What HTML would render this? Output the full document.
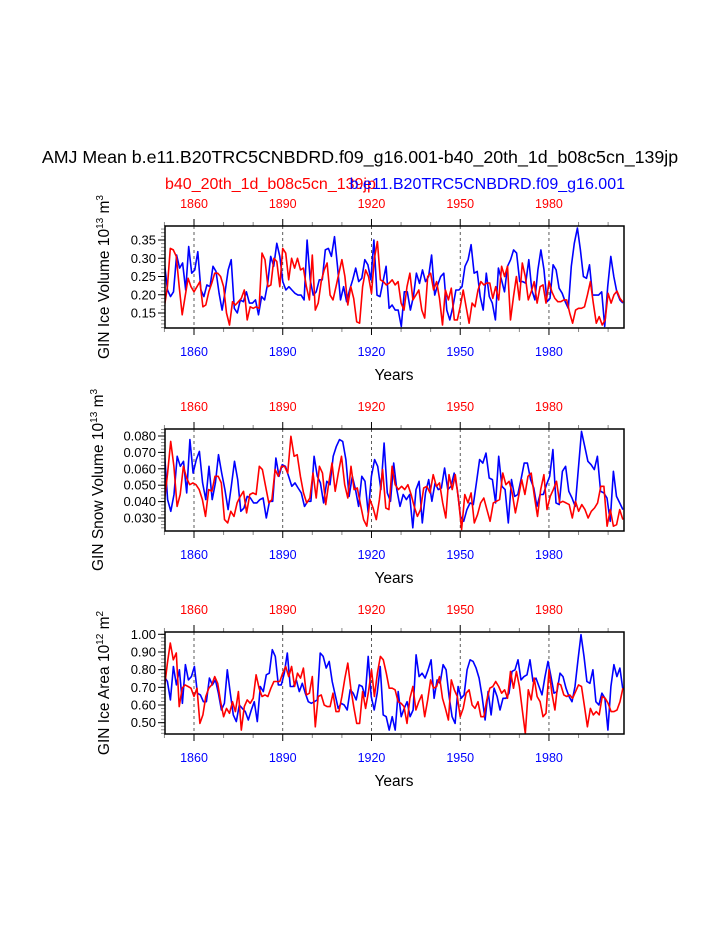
<!DOCTYPE html>
<html><head><meta charset="utf-8">
<style>
html,body{margin:0;padding:0;background:#fff;}
svg{display:block;font-family:"Liberation Sans",Helvetica,Arial,sans-serif;}
</style></head>
<body>
<svg id="chart" width="723" height="935" viewBox="0 0 723 935" xmlns="http://www.w3.org/2000/svg">
<rect x="0" y="0" width="723" height="935" fill="#fff"/>
<text x="360" y="163" font-size="17.8" text-anchor="middle" fill="#000">AMJ Mean b.e11.B20TRC5CNBDRD.f09_g16.001-b40_20th_1d_b08c5cn_139jp</text>
<text x="165" y="189" font-size="16" fill="#ff0000">b40_20th_1d_b08c5cn_139jp</text>
<text x="625" y="189" font-size="16" text-anchor="end" fill="#0000ff">b.e11.B20TRC5CNBDRD.f09_g16.001</text>
<g id="panels"></g>
</svg>
<script>
// ---- Data ----
const yearStart = 1850;
const yearEnd = 2005;
const xTickYears = [1860, 1890, 1920, 1950, 1980];
const xTickLabels = ["1860", "1890", "1920", "1950", "1980"];

const iceVolBlue = [0.287,0.213,0.195,0.208,0.309,0.273,0.287,0.213,0.332,0.259,0.268,0.318,0.213,0.195,0.227,0.222,0.278,0.264,0.204,0.158,0.208,0.268,0.296,0.163,0.15,0.186,0.181,0.208,0.177,0.177,0.186,0.145,0.195,0.186,0.231,0.305,0.278,0.341,0.305,0.236,0.213,0.222,0.213,0.204,0.199,0.199,0.186,0.35,0.241,0.199,0.208,0.241,0.241,0.323,0.327,0.305,0.359,0.278,0.186,0.222,0.181,0.213,0.241,0.273,0.236,0.245,0.296,0.282,0.241,0.35,0.199,0.195,0.236,0.278,0.163,0.172,0.158,
0.158,0.113,0.208,0.208,0.158,0.195,0.259,0.231,0.268,0.236,0.25,0.309,0.199,0.227,0.25,0.259,0.158,0.131,0.167,0.213,0.213,0.222,0.278,0.296,0.337,0.259,0.264,0.195,0.158,0.259,0.195,0.177,0.131,0.273,0.241,0.208,0.278,0.296,0.323,0.314,0.236,0.236,0.232,0.296,0.213,0.186,0.268,0.323,0.268,0.181,0.19,0.282,0.268,0.218,0.204,0.181,0.163,0.278,0.341,0.383,0.323,0.25,0.245,0.282,0.199,0.199,0.199,0.208,0.113,0.222,0.305,0.25,0.208,0.186,0.177];
const iceVolRed = [0.167,0.222,0.327,0.323,0.305,0.222,0.145,0.195,0.245,0.222,0.208,0.222,0.236,0.167,0.172,0.208,0.231,0.259,0.259,0.25,0.222,0.15,0.117,0.181,0.172,0.181,0.19,0.213,0.131,0.167,0.163,0.167,0.163,0.314,0.296,0.222,0.227,0.30,0.291,0.222,0.327,0.314,0.241,0.30,0.273,0.30,0.268,0.273,0.222,0.186,0.309,0.158,0.177,0.236,0.268,0.287,0.199,0.186,0.222,0.259,0.296,0.25,0.172,0.222,0.19,0.126,0.122,0.222,0.268,0.25,0.204,0.30,0.346,0.241,0.236,0.227,0.232,
0.241,0.227,0.236,0.177,0.158,0.222,0.259,0.186,0.199,0.213,0.158,0.136,0.25,0.259,0.213,0.236,0.19,0.117,0.213,0.186,0.218,0.131,0.131,0.167,0.213,0.167,0.122,0.177,0.167,0.213,0.236,0.227,0.232,0.232,0.19,0.222,0.186,0.278,0.25,0.278,0.131,0.195,0.25,0.186,0.287,0.25,0.186,0.208,0.236,0.177,0.222,0.227,0.177,0.236,0.208,0.19,0.181,0.181,0.186,0.186,0.15,0.122,0.158,0.163,0.163,0.167,0.199,0.236,0.177,0.122,0.14,0.117,0.131,0.204,0.177,0.20,0.21,0.19,0.18];

const snowVolBlue = [0.0706,0.0412,0.0341,0.0443,0.0676,0.0615,0.0646,0.0453,0.0778,0.0574,0.0656,0.0706,0.0514,0.0412,0.0615,0.0412,0.0514,0.0686,0.0574,0.0473,0.0351,0.0493,0.0646,0.0534,0.0341,0.0361,0.0432,0.0422,0.0392,0.0392,0.0412,0.0422,0.030,0.0402,0.0402,0.0666,0.0554,0.0625,0.0615,0.0554,0.0493,0.0514,0.0483,0.0453,0.0371,0.0402,0.0402,0.0676,0.0554,0.0514,0.0392,0.0524,0.0503,0.0676,0.0737,0.0778,0.0767,0.0656,0.0432,0.0554,0.0473,0.0371,0.0554,0.0524,0.0331,0.0554,0.0656,0.0615,0.0473,0.0757,0.0453,0.0402,0.0635,0.0473,0.0371,0.0443,0.0412,
0.0443,0.024,0.0473,0.0524,0.027,0.0453,0.0534,0.0402,0.0514,0.0473,0.0483,0.0605,0.0473,0.0493,0.0574,0.0473,0.031,0.028,0.0351,0.0392,0.0382,0.0514,0.0656,0.0635,0.0696,0.0544,0.0534,0.0392,0.0676,0.0493,0.0473,0.027,0.0534,0.0432,0.0443,0.0534,0.0635,0.0635,0.0534,0.0483,0.0371,0.0443,0.0443,0.0503,0.0554,0.0717,0.0392,0.0382,0.0585,0.0615,0.0463,0.0422,0.0371,0.0595,0.0828,0.0737,0.0646,0.0625,0.0595,0.0676,0.0463,0.0453,0.0422,0.028,0.0585,0.0432,0.0392,0.0351];
const snowVolRed = [0.0402,0.0574,0.0767,0.0615,0.0371,0.0443,0.0615,0.0544,0.0503,0.0514,0.0503,0.0473,0.0412,0.031,0.0473,0.0463,0.0554,0.0554,0.0514,0.029,0.027,0.0341,0.031,0.0392,0.0432,0.0463,0.0331,0.0443,0.0453,0.0443,0.0615,0.0595,0.0493,0.0392,0.0412,0.0595,0.0554,0.0615,0.0615,0.0574,0.0798,0.0676,0.0686,0.0554,0.0453,0.0392,0.0422,0.0574,0.0422,0.0615,0.0574,0.0382,0.0514,0.0635,0.0463,0.0574,0.0676,0.0503,0.0422,0.0615,0.0473,0.0483,0.0382,0.029,0.025,0.0412,0.0361,0.029,0.0412,0.0595,0.0361,0.0351,0.0615,0.0503,0.0473,0.0493,0.0473,
0.0503,0.0443,0.0371,0.031,0.0351,0.0483,0.0493,0.0453,0.0564,0.0493,0.0514,0.0392,0.030,0.0564,0.0473,0.0564,0.0412,0.0229,0.0443,0.0392,0.0453,0.027,0.032,0.0392,0.0422,0.0351,0.028,0.0392,0.0402,0.0412,0.0574,0.0503,0.0524,0.0453,0.0331,0.0432,0.0534,0.0443,0.0554,0.0574,0.0432,0.031,0.0473,0.0564,0.0351,0.0432,0.0473,0.0524,0.0392,0.0402,0.0392,0.0382,0.030,0.0402,0.0341,0.0382,0.0351,0.030,0.0341,0.0361,0.0392,0.0493,0.0493,0.025,0.0351,0.025,0.026,0.0351,0.029];

const iceAreaBlue = [0.761,0.733,0.629,0.818,0.714,0.799,0.61,0.828,0.742,0.761,0.818,0.667,0.657,0.619,0.619,0.752,0.714,0.742,0.667,0.572,0.61,0.799,0.667,0.544,0.506,0.60,0.581,0.563,0.515,0.572,0.619,0.506,0.705,0.676,0.771,0.78,0.913,0.875,0.714,0.714,0.78,0.894,0.705,0.705,0.742,0.676,0.723,0.667,0.619,0.61,0.619,0.629,0.894,0.875,0.809,0.847,0.733,0.657,0.581,0.61,0.60,0.572,0.686,0.667,0.629,0.714,0.705,0.648,0.875,0.648,0.572,0.667,0.818,0.544,0.534,0.458,
0.534,0.458,0.676,0.534,0.581,0.619,0.534,0.572,0.884,0.761,0.78,0.752,0.799,0.856,0.638,0.742,0.723,0.828,0.799,0.648,0.534,0.496,0.705,0.638,0.657,0.799,0.856,0.847,0.809,0.752,0.648,0.515,0.676,0.544,0.695,0.648,0.572,0.638,0.638,0.667,0.79,0.799,0.856,0.742,0.761,0.771,0.856,0.733,0.752,0.705,0.657,0.761,0.847,0.761,0.667,0.676,0.78,0.761,0.695,0.648,0.619,0.705,0.856,0.998,0.875,0.733,0.723,0.799,0.619,0.60,0.667,0.638,0.458,0.705,0.828,0.761,0.809,0.686];
const iceAreaRed = [0.695,0.837,0.951,0.856,0.894,0.591,0.695,0.714,0.705,0.695,0.648,0.695,0.496,0.544,0.648,0.695,0.714,0.761,0.723,0.619,0.534,0.581,0.553,0.619,0.563,0.676,0.458,0.591,0.629,0.61,0.638,0.771,0.695,0.648,0.657,0.648,0.695,0.733,0.733,0.733,0.78,0.818,0.761,0.818,0.705,0.78,0.752,0.809,0.657,0.667,0.761,0.477,0.648,0.657,0.60,0.591,0.591,0.667,0.563,0.563,0.648,0.752,0.837,0.695,0.591,0.496,0.496,0.676,0.581,0.676,0.799,0.648,0.78,0.875,0.856,0.78,0.695,
0.695,0.686,0.619,0.61,0.591,0.496,0.638,0.705,0.572,0.619,0.657,0.534,0.629,0.742,0.695,0.705,0.761,0.638,0.581,0.515,0.742,0.686,0.648,0.534,0.581,0.667,0.686,0.60,0.581,0.619,0.534,0.534,0.629,0.695,0.705,0.733,0.705,0.667,0.686,0.638,0.79,0.695,0.79,0.705,0.572,0.439,0.686,0.629,0.752,0.648,0.619,0.534,0.553,0.799,0.667,0.572,0.723,0.714,0.657,0.648,0.657,0.638,0.676,0.714,0.705,0.591,0.477,0.581,0.544,0.563,0.544,0.648,0.638,0.61,0.563,0.563,0.572,0.619,0.695];

const yTicks1 = [0.15,0.20,0.25,0.30,0.35];
const yTickLabels1 = ["0.15","0.20","0.25","0.30","0.35"];
const yTicks2 = [0.030,0.040,0.050,0.060,0.070,0.080];
const yTickLabels2 = ["0.030","0.040","0.050","0.060","0.070","0.080"];
const yTicks3 = [0.50,0.60,0.70,0.80,0.90,1.00];
const yTickLabels3 = ["0.50","0.60","0.70","0.80","0.90","1.00"];

// ---- Drawing ----
const NS = "http://www.w3.org/2000/svg";
const root = document.getElementById("panels");
const BX0 = 165, BX1 = 624, BH = 102;
function xScale(yr){ return 194 + (yr - 1860) * 2.958; }
function mk(tag, attrs, parent){
  const e = document.createElementNS(NS, tag);
  for (const k in attrs) e.setAttribute(k, attrs[k]);
  (parent || root).appendChild(e);
  return e;
}
function drawPanel(p){
  const g = mk("g", {});
  
  
  const top = p.top, bot = p.top + BH;
  const yScale = v => p.yRef + (p.vRef - v) * p.pxPerUnit;
  xTickYears.forEach(yr => {
    const l = mk("line", {x1:xScale(yr), x2:xScale(yr), y1:top, y2:bot, stroke:"#333", "stroke-width":0.8, "stroke-dasharray":"3,3"}, g);
    
    
  });
  for (let yr = 1850; yr <= 2000; yr += 10){
    const x = xScale(yr);
    const major = xTickYears.indexOf(yr) >= 0;
    const len = major ? 7 : 4;
    mk("line", {x1:x, x2:x, y1:top, y2:top - len, stroke:major?"#000":"#888", "stroke-width":1}, g);
    mk("line", {x1:x, x2:x, y1:bot, y2:bot + len, stroke:major?"#000":"#888", "stroke-width":1}, g);
  }
  xTickYears.forEach((yr, i) => {
    const t1 = mk("text", {x:xScale(yr), y:top - 18, "font-size":12.5, "text-anchor":"middle", fill:"#ff0000"}, g);
    t1.textContent = xTickLabels[i];
    
    
    const t2 = mk("text", {x:xScale(yr), y:bot + 28, "font-size":12.5, "text-anchor":"middle", fill:"#0000ff"}, g);
    t2.textContent = xTickLabels[i];
    
    
  });
  const vTop = p.vRef - (top - p.yRef) / p.pxPerUnit;
  const vBot = p.vRef - (bot - p.yRef) / p.pxPerUnit;
  const start = Math.ceil(vBot / p.minor - 1e-6);
  for (let k = start; k * p.minor <= vTop + 1e-9; k++){
    const y = yScale(k * p.minor);
    mk("line", {x1:BX0, x2:BX0 - 4, y1:y, y2:y, stroke:"#888", "stroke-width":1}, g);
  }
  p.yTicks.forEach((v, i) => {
    const y = yScale(v);
    mk("line", {x1:BX0, x2:BX0 - 7, y1:y, y2:y, stroke:"#000", "stroke-width":1}, g);
    const t = mk("text", {x:BX0 - 9, y:y + 4.5, "font-size":13, "text-anchor":"end", fill:"#000"}, g);
    t.textContent = p.yLabels[i];
    
    
  });
  const cid = "clip" + p.top;
  const cp = mk("clipPath", {id:cid}, g);
  mk("rect", {x:BX0, y:top, width:BX1 - BX0, height:BH}, cp);
  [[p.blue, "#0000ff", "blue-series-line"], [p.red, "#ff0000", "red-series-line"]].forEach(([arr, col, nm]) => {
    const n = arr.length;
    const pts = arr.map((v, i) => {
      const yr = yearStart + i * (yearEnd - yearStart) / (n - 1);
      return xScale(yr).toFixed(1) + "," + yScale(v).toFixed(1);
    }).join(" ");
    const pl = mk("polyline", {points:pts, fill:"none", stroke:col, "stroke-width":1.6, "stroke-linejoin":"round", "clip-path":"url(#" + cid + ")"}, g);
    
    
  });
  const box = mk("rect", {x:BX0, y:top, width:BX1 - BX0, height:BH, fill:"none", stroke:"#000", "stroke-width":1.5}, g);
  
  
  const xt = mk("text", {x:394, y:bot + 52, "font-size":15.5, "text-anchor":"middle", fill:"#000"}, g);
  xt.textContent = "Years";
  
  
  const cy = top + BH / 2;
  const yt = mk("text", {x:0, y:0, "font-size":15.5, "text-anchor":"middle", fill:"#000", transform:"translate(" + p.ytX + "," + cy + ") rotate(-90)"}, g);
  
  
  yt.appendChild(document.createTextNode(p.yTitle + " 10"));
  const s1 = mk("tspan", {"font-size":10, dy:-6}, yt); s1.textContent = p.exp;
  const s2 = mk("tspan", {dy:6}, yt); s2.textContent = " m";
  const s3 = mk("tspan", {"font-size":10, dy:-6}, yt); s3.textContent = p.unitExp;
}
drawPanel({name:"ice-volume-panel", top:226, yRef:240, vRef:0.35, pxPerUnit:365, minor:0.01, yTicks:yTicks1, yLabels:yTickLabels1, blue:iceVolBlue, red:iceVolRed, yTitle:"GIN Ice Volume", exp:"13", unitExp:"3", ytX:109});
drawPanel({name:"snow-volume-panel", top:429, yRef:436, vRef:0.08, pxPerUnit:1640, minor:0.002, yTicks:yTicks2, yLabels:yTickLabels2, blue:snowVolBlue, red:snowVolRed, yTitle:"GIN Snow Volume", exp:"13", unitExp:"3", ytX:103});
drawPanel({name:"ice-area-panel", top:632, yRef:634.3, vRef:1.0, pxPerUnit:176.8, minor:0.02, yTicks:yTicks3, yLabels:yTickLabels3, blue:iceAreaBlue, red:iceAreaRed, yTitle:"GIN Ice Area", exp:"12", unitExp:"2", ytX:109});
</script>
</body></html>
